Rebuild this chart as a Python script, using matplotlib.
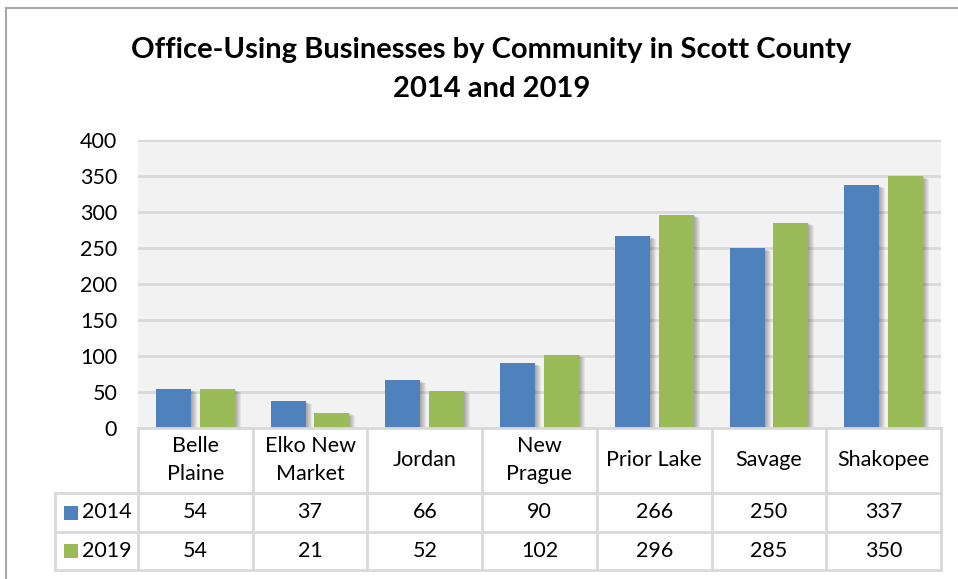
import matplotlib
matplotlib.use("Agg")
import matplotlib.pyplot as plt
from matplotlib.patches import Rectangle
from matplotlib.lines import Line2D

communities = ["Belle\nPlaine", "Elko New\nMarket", "Jordan", "New\nPrague",
               "Prior Lake", "Savage", "Shakopee"]
series_names = ["2014", "2019"]
values_2014 = [54, 37, 66, 90, 266, 250, 337]
values_2019 = [54, 21, 52, 102, 296, 285, 350]
y_ticks = [0, 50, 100, 150, 200, 250, 300, 350, 400]

colors = ["#4F81BD", "#9BBB59"]
grid_color = "#D9D9D9"
font = ["Lato", "DejaVu Sans"]
fs = 15.5

W, H = 958, 579
fig = plt.figure(figsize=(W / 100, H / 100), dpi=100)
fig.patch.set_facecolor("white")


def fx(px):
    return px / W


def fy(py):
    return 1 - py / H


# plot area in pixel coordinates
PL, PR, PT, PB = 138, 941, 140, 428
ax = fig.add_axes([fx(PL), fy(PB), fx(PR) - fx(PL), fy(PT) - fy(PB)])
ax.set_facecolor("#F2F2F2")
n = len(communities)
ax.set_xlim(-0.5, n - 0.5)
ax.set_ylim(0, 400)
for s in ax.spines.values():
    s.set_visible(False)
ax.set_xticks([])
ax.set_yticks(y_ticks)
ax.set_yticklabels([str(t) for t in y_ticks], fontsize=fs, family=font)
ax.tick_params(axis="y", length=0, pad=15)
for t in y_ticks[1:]:
    ax.axhline(t, color=grid_color, lw=2, zorder=1)

bar_w = 0.305
offs = [-0.19, 0.19]
px_x = (n) / (PR - PL)
px_y = 400 / (PB - PT)
for vals, off, col in zip([values_2014, values_2019], offs, colors):
    for i, v in enumerate(vals):
        x0 = i + off - bar_w / 2
        # soft drop shadow
        for k in range(1, 7):
            ax.add_patch(Rectangle((x0 + k * px_x, 0), bar_w,
                                   v - (k * 0.5) * px_y,
                                   facecolor="black", alpha=0.055,
                                   edgecolor="none", zorder=2))
        ax.add_patch(Rectangle((x0, 0), bar_w, v, facecolor=col,
                               edgecolor="none", zorder=3))

# title
title_x = 0.5 * (fx(128) + fx(855))
fig.text(title_x, fy(50),
         "Office-Using Businesses by Community in Scott County",
         ha="center", va="center", fontsize=21, fontweight="bold", family=font)
fig.text(title_x, fy(89), "2014 and 2019",
         ha="center", va="center", fontsize=21, fontweight="bold", family=font)

# data table beneath the plot
TL = 55
TT, R1, R2, TB = 428, 493, 532, 570
colw = (PR - PL) / n
lw = 2


def hline(y, x0, x1):
    fig.add_artist(Line2D([fx(x0), fx(x1)], [fy(y), fy(y)],
                          color=grid_color, lw=lw))


def vline(x, y0, y1):
    fig.add_artist(Line2D([fx(x), fx(x)], [fy(y0), fy(y1)],
                          color=grid_color, lw=lw))


hline(TT, PL, PR)
hline(R1, TL, PR)
hline(R2, TL, PR)
hline(TB, TL, PR)
vline(TL, R1, TB)
for k in range(n + 1):
    vline(PL + k * colw, TT, TB)

for i, name in enumerate(communities):
    cx = PL + (i + 0.5) * colw
    fig.text(fx(cx), fy((TT + R1) / 2), name, ha="center", va="center",
             fontsize=fs, family=font, linespacing=1.5)
    fig.text(fx(cx), fy((R1 + R2) / 2), str(values_2014[i]), ha="center",
             va="center", fontsize=fs, family=font)
    fig.text(fx(cx), fy((R2 + TB) / 2), str(values_2019[i]), ha="center",
             va="center", fontsize=fs, family=font)

for (y0, y1), name, col in zip([(R1, R2), (R2, TB)], series_names, colors):
    cy = (y0 + y1) / 2
    fig.add_artist(Rectangle((fx(64), fy(cy + 7)), fx(14), 14 / H,
                             facecolor=col, edgecolor="none"))
    fig.text(fx(82), fy(cy), name, ha="left", va="center",
             fontsize=fs, family=font)

# outer chart frame
fig.add_artist(Line2D([fx(6), fx(W)], [fy(8), fy(8)], color="#A6A6A6", lw=1.5))
fig.add_artist(Line2D([fx(6), fx(6)], [fy(8), fy(H)], color="#A6A6A6", lw=1.5))

fig.savefig("out.png", dpi=100)
